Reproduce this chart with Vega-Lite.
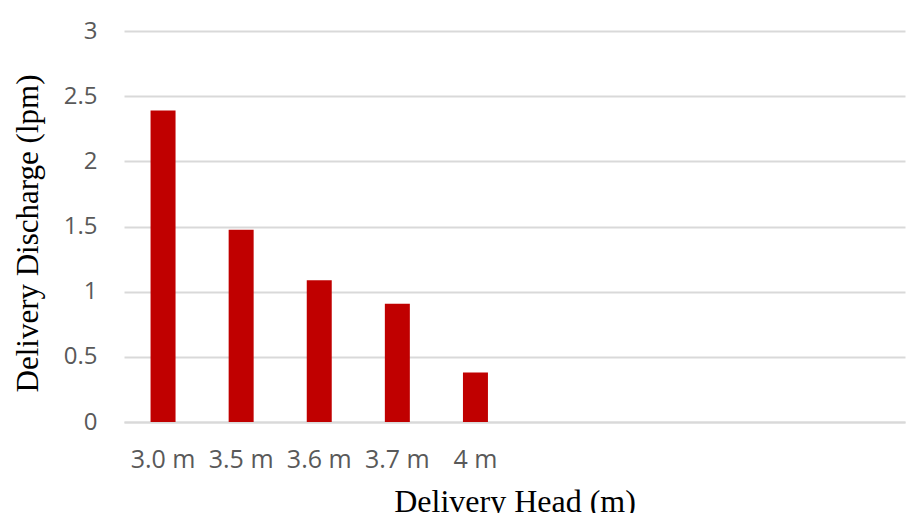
{
  "$schema": "https://vega.github.io/schema/vega-lite/v6.json",
  "width": 781,
  "height": 391,
  "autosize": "none",
  "padding": {"left": 124, "top": 31, "right": 3, "bottom": 91},
  "background": "white",
  "config": {"view": {"stroke": null}},
  "data": {
    "values": [
      {"head": "3.0 m", "discharge": 2.39},
      {"head": "3.5 m", "discharge": 1.475},
      {"head": "3.6 m", "discharge": 1.087},
      {"head": "3.7 m", "discharge": 0.908},
      {"head": "4 m", "discharge": 0.38}
    ]
  },
  "mark": {"type": "bar", "color": "#C00000"},
  "encoding": {
    "x": {
      "field": "head",
      "type": "nominal",
      "sort": null,
      "scale": {
        "domain": ["3.0 m", "3.5 m", "3.6 m", "3.7 m", "4 m", " ", "  ", "   ", "    ", "     "],
        "paddingInner": 0.68,
        "paddingOuter": 0.34
      },
      "axis": {
        "title": "Delivery Head (m)",
        "titleFont": "Liberation Serif",
        "titleFontSize": 32,
        "titleFontWeight": "normal",
        "titleColor": "#000000",
        "titleBaseline": "alphabetic",
        "titleY": 89,
        "labelAngle": 0,
        "labelFont": "Open Sans",
        "labelFontSize": 25,
        "labelColor": "#595959",
        "labelBaseline": "alphabetic",
        "labelPadding": 45,
        "ticks": false,
        "tickSize": 0,
        "domainColor": "#d9d9d9",
        "domainWidth": 2
      }
    },
    "y": {
      "field": "discharge",
      "type": "quantitative",
      "scale": {"domain": [0, 3], "nice": false},
      "axis": {
        "title": "Delivery Discharge (lpm)",
        "titleFont": "Liberation Serif",
        "titleFontSize": 31,
        "titleFontWeight": "normal",
        "titleColor": "#000000",
        "titleAngle": -90,
        "titleBaseline": "alphabetic",
        "titleAlign": "center",
        "titleX": -87,
        "titleY": 202,
        "values": [0, 0.5, 1, 1.5, 2, 2.5, 3],
        "format": "~g",
        "labelFont": "Open Sans",
        "labelFontSize": 24,
        "labelColor": "#595959",
        "labelPadding": 27,
        "labelBaseline": "middle",
        "ticks": false,
        "tickSize": 0,
        "domain": false,
        "grid": true,
        "gridColor": "#d9d9d9",
        "gridWidth": 2
      }
    }
  }
}
